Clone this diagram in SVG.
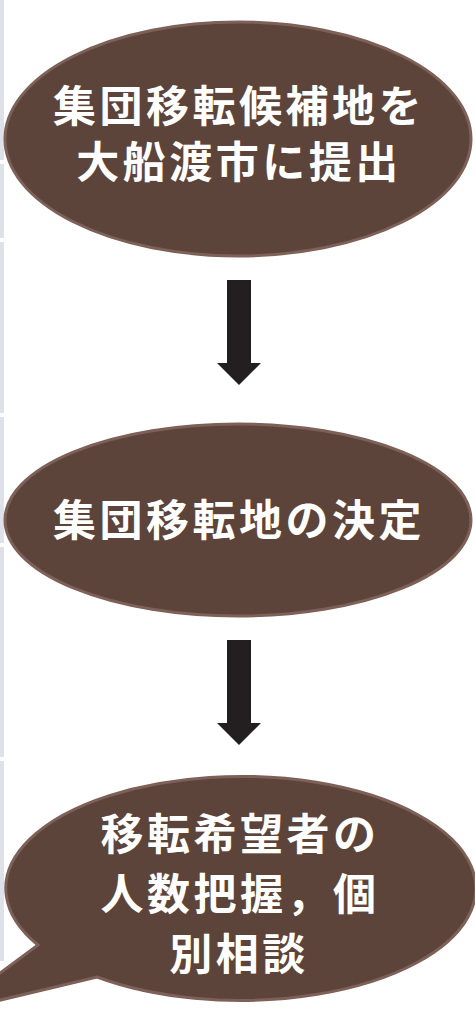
<svg xmlns="http://www.w3.org/2000/svg" width="475" height="1029" viewBox="0 0 475 1029">
<style>
.n{fill:#5c443a;stroke:#7d6058;stroke-width:3}
.t{fill:#ffffff;font-family:"Noto Sans CJK JP","Noto Sans CJK SC",sans-serif;font-weight:bold;font-size:43px;text-anchor:middle;letter-spacing:3.5px}
.a{fill:#231f20}
.s{fill:#dfe1ea}
</style>
<g id="strip">
<rect class="s" x="0" y="0" width="4" height="160"/>
<rect class="s" x="0" y="164" width="4" height="74"/>
<rect class="s" x="0" y="242" width="4" height="171"/>
<rect class="s" x="0" y="417" width="4" height="126"/>
<rect class="s" x="0" y="547" width="4" height="210"/>
<rect class="s" x="0" y="761" width="4" height="200"/>
</g>
<g id="connectors">
<polygon class="a" points="227,280 251,280 251,363 261,363 239,385 217,363 227,363"/>
<polygon class="a" points="227,640 251,640 251,723 261,723 239,745 217,723 227,723"/>
</g>
<g id="node1">
<ellipse class="n" cx="238" cy="139" rx="233" ry="117"/>
<text class="t" x="239" y="122">集団移転候補地を</text>
<text class="t" x="239" y="178">大船渡市に提出</text>
</g>
<g id="node2">
<ellipse class="n" cx="238" cy="520" rx="233" ry="96"/>
<text class="t" x="239" y="536">集団移転地の決定</text>
</g>
<g id="node3">
<path class="n" d="M 38,945 A 235 112 0 1 1 97,977 L -54,1013 Z"/>
<text class="t" x="240" y="850">移転希望者の</text>
<text class="t" x="240" y="910">人数把握，個</text>
<text class="t" x="239" y="970">別相談</text>
</g>
</svg>
